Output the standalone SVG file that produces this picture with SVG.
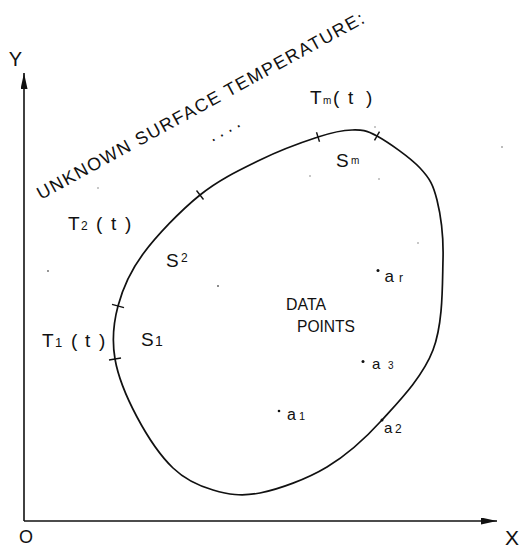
<svg xmlns="http://www.w3.org/2000/svg" width="521" height="548" viewBox="0 0 521 548">
<defs>
<style>
.t{font-family:"Liberation Sans",Arial,sans-serif;fill:#111}
.ax{stroke:#111;stroke-width:1.6;fill:none}
.cv{stroke:#111;stroke-width:1.7;fill:none}
.tk{stroke:#111;stroke-width:1.4}
.dp{fill:#111}
.sp{fill:#666}
</style>
<marker id="ah" markerUnits="userSpaceOnUse" markerWidth="17" markerHeight="8" refX="16" refY="3.5" orient="auto">
<path d="M0,0 L16,3.5 L0,7 Z" fill="#111"/>
</marker>
</defs>
<rect width="521" height="548" fill="#fff"/>
<g id="connectors">
<line class="ax" x1="24" y1="521" x2="24" y2="73" marker-end="url(#ah)"/>
<line class="ax" x1="24" y1="521" x2="497" y2="521" marker-end="url(#ah)"/>
</g>
<g id="axis-labels">
<text class="t" x="15.5" y="66" font-size="20" text-anchor="middle">Y</text>
<text class="t" x="505" y="545" font-size="21">X</text>
<text class="t" x="19" y="543" font-size="18">O</text>
</g>
<g id="title">
<text class="t" font-size="18" transform="translate(41,200) rotate(-28.7)" textLength="370" lengthAdjust="spacing">UNKNOWN SURFACE TEMPERATURE:</text>
<text class="t" font-size="18" transform="translate(212,142) rotate(-28.7)" letter-spacing="4.5">....</text>
</g>
<g id="region">
<path class="cv" d="M115,359 C111.8,340.5 113.3,323.5 118,306 C122.7,288.5 129.3,272.5 143,254 C156.7,235.5 180.5,210.7 200,195 C219.5,179.3 240.3,169.7 260,160 C279.7,150.3 302.7,142 318,137 C333.3,132 342.2,130.2 352,130 C361.8,129.8 365.7,129.7 377,136 C388.3,142.3 410,157.3 420,168 C430,178.7 433.2,184.7 437,200 C440.8,215.3 443.7,235 443,260 C442.3,285 443.2,323.3 433,350 C422.8,376.7 399.7,400.5 382,420 C364.3,439.5 347.3,454.8 327,467 C306.7,479.2 279,489.2 260,493 C241,496.8 227.5,494.2 213,490 C198.5,485.8 185.7,480.2 173,468 C160.3,455.8 146.7,435.2 137,417 C127.3,398.8 118.2,377.5 115,359 Z"/>
<line class="tk" x1="196.5" y1="190.5" x2="203.5" y2="199.5"/>
<line class="tk" x1="112" y1="304.4" x2="124" y2="307.6"/>
<line class="tk" x1="109" y1="360" x2="121" y2="358"/>
<line class="tk" x1="316.5" y1="132.3" x2="319.5" y2="141.8"/>
<line class="tk" x1="379.5" y1="131.6" x2="374.5" y2="140.4"/>
</g>
<g id="boundary-labels">
<text class="t" y="104" font-size="19"><tspan x="310">T</tspan><tspan x="323" font-size="10">m</tspan><tspan x="333">(</tspan><tspan x="348">t</tspan><tspan x="366">)</tspan></text>
<text class="t" y="230" font-size="19"><tspan x="68">T</tspan><tspan x="81" font-size="12">2</tspan><tspan x="96">(</tspan><tspan x="111">t</tspan><tspan x="125">)</tspan></text>
<text class="t" y="347" font-size="19"><tspan x="42">T</tspan><tspan x="55" font-size="13">1</tspan><tspan x="71">(</tspan><tspan x="85">t</tspan><tspan x="99">)</tspan></text>
<text class="t" y="346" font-size="19"><tspan x="141">S</tspan><tspan x="155" font-size="14">1</tspan></text>
<text class="t" y="267" font-size="19"><tspan x="166">S</tspan><tspan x="181" y="262" font-size="12">2</tspan></text>
<text class="t" y="167" font-size="19"><tspan x="336">S</tspan><tspan x="351" y="164" font-size="10">m</tspan></text>
</g>
<g id="data-points">
<text class="t" x="286" y="310" font-size="16.5" textLength="40" lengthAdjust="spacingAndGlyphs">DATA</text>
<text class="t" x="297" y="332" font-size="16.5" textLength="58" lengthAdjust="spacingAndGlyphs">POINTS</text>
<circle class="dp" cx="378" cy="270.5" r="1.5"/>
<text class="t" y="282" font-size="17"><tspan x="384.5">a</tspan><tspan x="399" font-size="12">r</tspan></text>
<circle class="dp" cx="363" cy="361.5" r="1.5"/>
<text class="t" y="368.5" font-size="15"><tspan x="372">a</tspan><tspan x="388" font-size="10">3</tspan></text>
<circle class="dp" cx="279" cy="411" r="1.3"/>
<text class="t" y="419.5" font-size="16"><tspan x="287">a</tspan><tspan x="299" font-size="11">1</tspan></text>
<circle class="dp" cx="382" cy="420" r="1.5"/>
<text class="t" y="432.5" font-size="15"><tspan x="384">a</tspan><tspan x="395" font-size="12">2</tspan></text>
</g>
<g id="specks">
<circle class="sp" cx="48" cy="271" r="0.9"/>
<circle class="sp" cx="218" cy="286" r="1"/>
<circle class="sp" cx="98" cy="188" r="0.7"/>
<circle class="sp" cx="375" cy="127" r="0.7"/>
<circle class="sp" cx="502" cy="147" r="0.8"/>
<circle class="sp" cx="310" cy="176" r="0.7"/>
<circle class="sp" cx="379" cy="179" r="0.7"/>
<circle class="sp" cx="418" cy="243" r="0.7"/>
</g>
</svg>
